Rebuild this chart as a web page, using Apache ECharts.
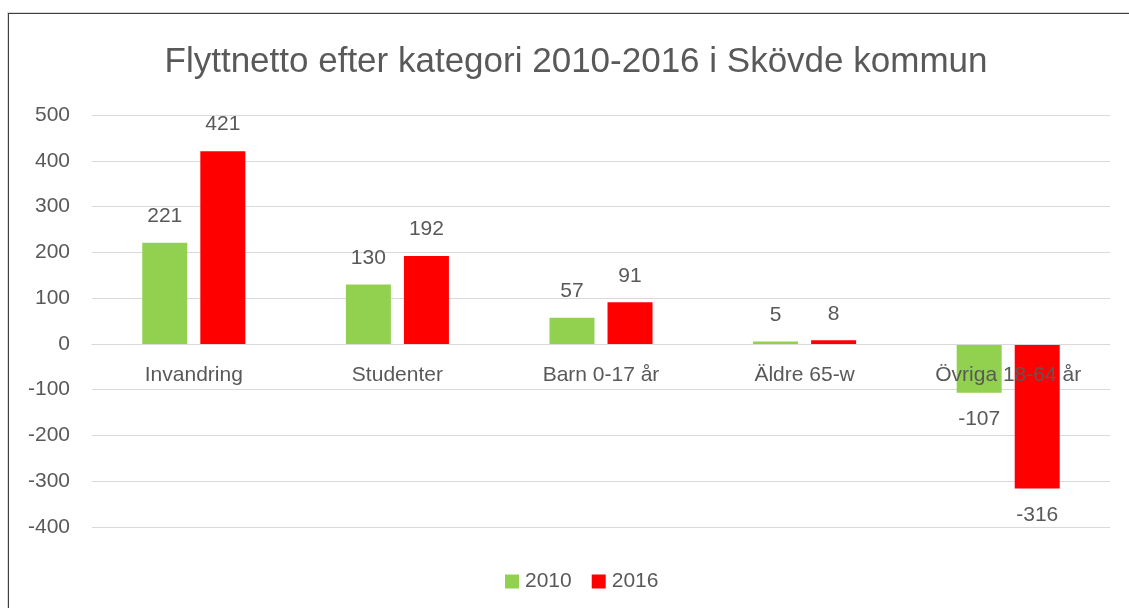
<!DOCTYPE html>
<html lang="sv">
<head>
    <meta charset="UTF-8">
    <title>Flyttnetto</title>
    <style>
        body{ margin:0; background:#fff; }
        .frame{
            position:absolute; left:8px; top:13px; width:1140px; height:620px;
            border:1px solid #3f3f3f; box-shadow:-1px -1px 0 #d9d9d9;
        }
        #chart{ position:absolute; left:0; top:0; width:1129px; height:608px; }
    </style>
</head>
<body>
<div class="frame"></div>
<div id="chart"></div>
<script src="https://cdn.jsdelivr.net/npm/echarts@6/dist/echarts.min.js"></script>
<script>
    var categories = ['Invandring', 'Studenter', 'Barn 0-17 år', 'Äldre 65-w', 'Övriga 18-64 år'];
    var values2010 = [221, 130, 57, 5, -107];
    var values2016 = [421, 192, 91, 8, -316];
    var seriesNames = ['2010', '2016'];

    var font = 'Liberation Sans';
    var grey = '#595959';
    var fs = 21;

    var myChart = echarts.init(document.getElementById('chart'));
    var label = {
        show: true,
        position: 'top',
        distance: 16,
        color: grey,
        fontSize: fs,
        fontFamily: font
    };
    function lbl(v) {
        return v < 0 ? {label: {position: 'bottom'}, value: v} : v;
    }
    // plot area 115..527, zero line sits 5/9 of the way down
    var plotTop = 115, plotBottom = 81;
    var plotH = 608 - plotTop - plotBottom;
    var zeroOffset = -Math.round(plotH * 4 / 9);

    var option = {
        animation: false,
        title: {
            text: 'Flyttnetto efter kategori 2010-2016 i Skövde kommun',
            left: 571, textAlign: 'center', top: 40,
            textStyle: {color: grey, fontSize: 35, fontWeight: 'normal', fontFamily: font}
        },
        legend: {
            data: seriesNames,
            top: 566, left: 500,
            icon: 'rect',
            itemWidth: 14, itemHeight: 14, itemGap: 20,
            textStyle: {color: grey, fontSize: fs, fontFamily: font, padding: [0, 0, 0, 1]}
        },
        grid: {left: 92, right: 19, top: plotTop, bottom: plotBottom},
        xAxis: {
            type: 'category',
            data: categories,
            z: 5,
            offset: zeroOffset,
            axisLine: {onZero: false, lineStyle: {color: '#d9d9d9'}},
            axisTick: {show: false},
            axisLabel: {color: grey, fontSize: fs, fontFamily: font, margin: 21}
        },
        yAxis: {
            type: 'value',
            min: -400, max: 500, interval: 100,
            axisLabel: {color: grey, fontSize: fs, fontFamily: font, margin: 22},
            splitLine: {lineStyle: {color: '#d9d9d9'}}
        },
        series: [{
            name: seriesNames[0], type: 'bar', barWidth: 45, barGap: '29%',
            itemStyle: {color: '#92D050'},
            label: label,
            data: values2010.map(lbl)
        }, {
            name: seriesNames[1], type: 'bar', barWidth: 45,
            itemStyle: {color: '#FF0000'},
            label: label,
            data: values2016.map(lbl)
        }]
    };
    myChart.setOption(option);
</script>
</body>
</html>
